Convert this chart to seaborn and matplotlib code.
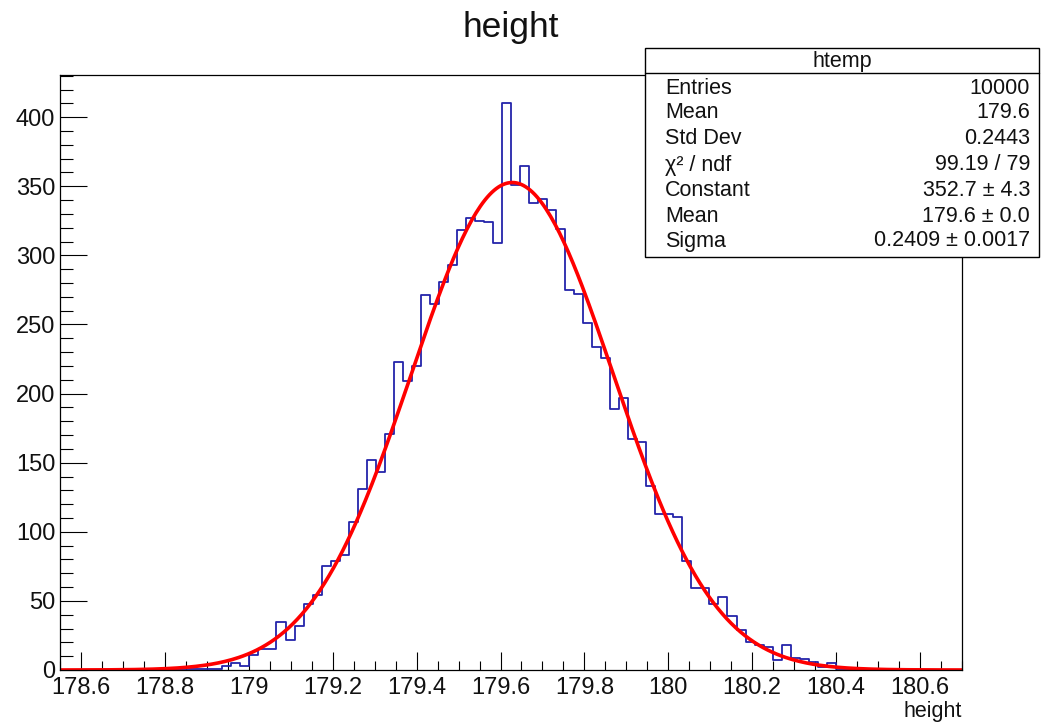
import numpy as np
import pandas as pd
import seaborn as sns
import matplotlib
matplotlib.use("Agg")
import matplotlib.pyplot as plt
from matplotlib.ticker import MultipleLocator, FuncFormatter
from matplotlib.patches import Rectangle
from matplotlib.lines import Line2D

# ---------------- data ----------------
x_min, x_max, n_bins = 178.55, 180.70, 100
# bin contents (100 bins)
counts = [0, 0, 0, 0, 0, 0, 0, 0, 0, 0,
          1, 1, 1, 1, 1, 1, 1, 1, 3, 5,
          3, 11, 15, 15, 35, 22, 32, 48, 54, 75,
          79, 83, 107, 131, 152, 143, 171, 223, 209, 220,
          271, 265, 281, 293, 318, 327, 325, 324, 309, 410,
          351, 365, 338, 341, 333, 319, 275, 272, 251, 234,
          226, 189, 197, 167, 165, 133, 113, 113, 111, 79,
          59, 59, 48, 53, 39, 29, 20, 18, 17, 7,
          18, 9, 8, 6, 2, 5, 1, 1, 1, 1,
          1, 1, 0, 0, 0, 0, 0, 0, 0, 0]
# gaussian fit parameters
fit_constant = 352.7
fit_mean = 179.628
fit_sigma = 0.2409

stat_labels = ["Entries", "Mean", "Std Dev", "χ² / ndf", "Constant", "Mean", "Sigma"]
stat_values = ["10000", "179.6", "0.2443", "99.19 / 79", "352.7 ± 4.3",
               "179.6 ± 0.0", "0.2409 ± 0.0017"]

# ---------------- style ----------------
sns.set_theme(style="white")
plt.rcParams['font.family'] = ['Liberation Sans', 'DejaVu Sans']

W, H = 1043, 722
fig = plt.figure(figsize=(W / 100, H / 100), dpi=100)
ax = fig.add_axes([60 / W, 52 / H, 902 / W, 595 / H])

edges = [float(e) for e in np.linspace(x_min, x_max, n_bins + 1)]
centers = [0.5 * (edges[i] + edges[i + 1]) for i in range(n_bins)]
hist_df = pd.DataFrame({"height": centers, "count": counts})

sns.histplot(data=hist_df, x="height", weights="count", bins=edges,
             element="step", fill=False, color="#2424aa", linewidth=1.3, ax=ax)

xs = np.linspace(x_min, x_max, 400)
fit_df = pd.DataFrame({"x": xs,
                       "y": fit_constant * np.exp(-0.5 * ((xs - fit_mean) / fit_sigma) ** 2)})
sns.lineplot(data=fit_df, x="x", y="y", color="#ff0000", linewidth=2.6, ax=ax)

ax.set_xlim(x_min, x_max)
ax.set_ylim(0, 430.5)
ax.set_xlabel("")
ax.set_ylabel("")

ax.xaxis.set_major_locator(MultipleLocator(0.2))
ax.xaxis.set_minor_locator(MultipleLocator(0.05))
ax.yaxis.set_major_locator(MultipleLocator(50))
ax.yaxis.set_minor_locator(MultipleLocator(10))
ax.xaxis.set_major_formatter(FuncFormatter(lambda v, p: "%g" % round(v, 3)))
ax.yaxis.set_major_formatter(FuncFormatter(lambda v, p: "%g" % v))

ax.tick_params(axis="both", which="both", direction="in", color="black",
               width=0.8, top=False, right=False, bottom=True, left=True,
               labelsize=17, labelcolor="#111111")
ax.tick_params(axis="x", which="major", length=13, pad=5)
ax.tick_params(axis="x", which="minor", length=6.5)
ax.tick_params(axis="y", which="major", length=19.5, pad=3.5)
ax.tick_params(axis="y", which="minor", length=9.7)

for s in ax.spines.values():
    s.set_visible(True)
    s.set_color("black")
    s.set_linewidth(0.9)

# ---------------- texts ----------------
fig.text(511 / W, 1 - 28 / H, "height", ha="center", va="center", fontsize=25.5, color="#111111")
fig.text(962 / W, 1 - 711 / H, "height", ha="right", va="center", fontsize=15.5, color="#111111")

# stats box
bx0, bx1 = 645 / W, 1039 / W
by_top, by_bot = 1 - 48 / H, 1 - 257 / H
fig.add_artist(Rectangle((bx0, by_bot), bx1 - bx0, by_top - by_bot, transform=fig.transFigure,
                         facecolor="white", edgecolor="black", linewidth=1.0, zorder=5))
sep_y = 1 - 73 / H
fig.add_artist(Line2D([bx0, bx1], [sep_y, sep_y], transform=fig.transFigure,
                      color="black", linewidth=1.0, zorder=6))
fig.text((bx0 + bx1) / 2, 1 - 61 / H, "htemp", ha="center", va="center",
         fontsize=15.5, color="#111111", zorder=7)
row_y = [88, 113, 139, 165, 191, 216, 241]
for lab, val, yy in zip(stat_labels, stat_values, row_y):
    fig.text(665 / W, 1 - yy / H, lab, ha="left", va="center", fontsize=15.5,
             color="#111111", zorder=7)
    fig.text(1030 / W, 1 - yy / H, val, ha="right", va="center", fontsize=15.5,
             color="#111111", zorder=7)

fig.savefig("out.png", dpi=100, facecolor="white")
